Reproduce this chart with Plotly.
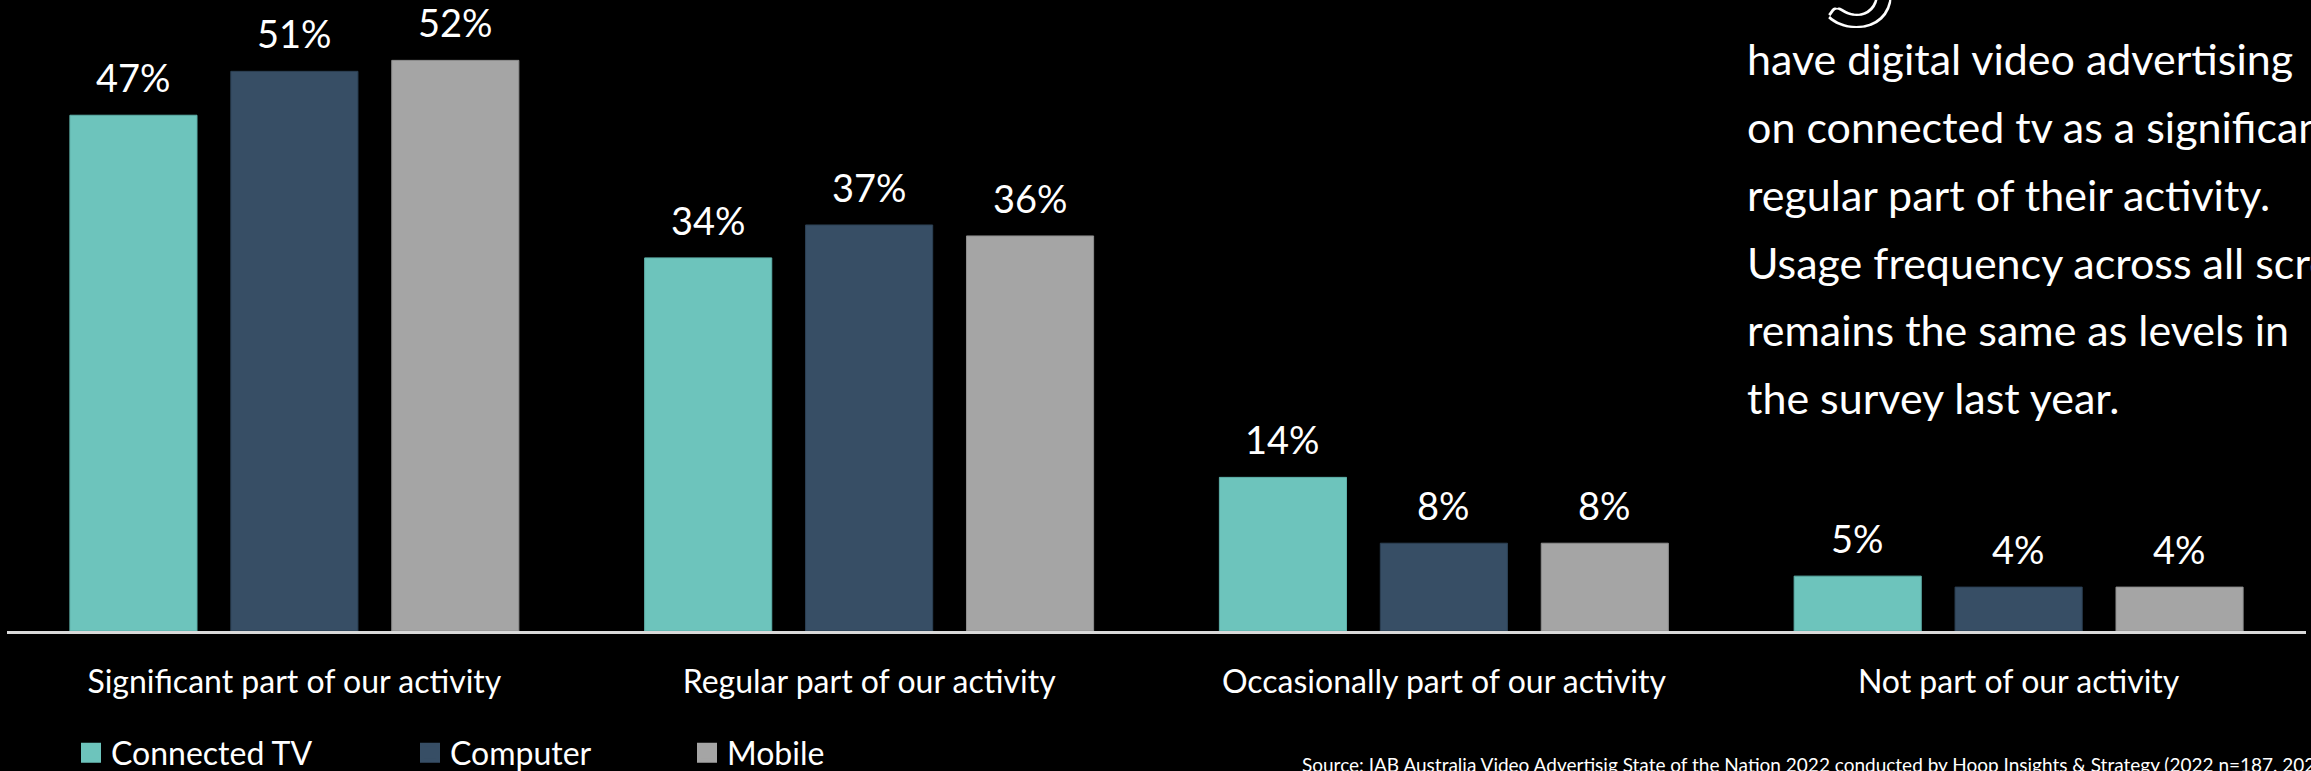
import plotly.graph_objects as go

# ---- data -------------------------------------------------------------
categories = [
    "Significant part of our activity",
    "Regular part of our activity",
    "Occasionally part of our activity",
    "Not part of our activity",
]
series_names = ["Connected TV", "Computer", "Mobile"]
connected_tv = [47, 34, 14, 5]
computer = [51, 37, 8, 4]
mobile = [52, 36, 8, 4]

side_text = [
    "have digital video advertising",
    "on connected tv as a significant or",
    "regular part of their activity.",
    "Usage frequency across all screens",
    "remains the same as levels in",
    "the survey last year.",
]
source_text = ("Source: IAB Australia Video Advertisig State of the Nation 2022 "
               "conducted by Hoop Insights & Strategy (2022 n=187, 2021)")

# ---- styling / geometry ----------------------------------------------
W, H = 2311, 771
ML, MR, MT, MB = 7, 5, 0, 140
PW, PH = W - ML - MR, H - MT - MB
Y_MAX = 57.5
FONT = "Lato"
colors = ["#6DC4BC", "#374E65", "#A5A5A5"]
edge_colors = ["#5DAFA8", "#2C4054", "#8E8E8E"]
BARGAP, GROUPGAP = 0.16, 0.21


def px_x(px):
    return (px - ML) / PW


def px_y(py):
    return (MT + PH - py) / PH


values = [connected_tv, computer, mobile]
fig = go.Figure()

for i, (name, vals) in enumerate(zip(series_names, values)):
    fig.add_trace(go.Bar(
        x=categories, y=vals, name=name, showlegend=False,
        marker=dict(color=colors[i], line=dict(color=edge_colors[i], width=1)),
        hoverinfo="skip",
    ))

# legend swatches, one legend per series so each can be placed freely
legend_ids = ["legend", "legend2", "legend3"]
legend_px = [71, 410, 687]
for i, name in enumerate(series_names):
    fig.add_trace(go.Scatter(
        x=[None], y=[None], mode="markers", name=name, legend=legend_ids[i],
        marker=dict(symbol="square", size=16, color=colors[i],
                    line=dict(color=colors[i], width=4)),
    ))

# value labels above each bar
slot = (1 - BARGAP) / 3
annotations = []
for i, vals in enumerate(values):
    for g, v in enumerate(vals):
        annotations.append(dict(
            x=g + (i - 1) * slot, y=v, xref="x", yref="y",
            text=f"{v}%", showarrow=False, yanchor="bottom", yshift=13,
            font=dict(family=FONT, size=38, color="white"),
        ))

# commentary block on the right
line_baselines = [76, 144, 212, 280, 347, 415]
for line, base in zip(side_text, line_baselines):
    annotations.append(dict(
        x=px_x(1745), y=px_y(base + 10), xref="paper", yref="paper",
        text=line, showarrow=False, xanchor="left", yanchor="bottom",
        font=dict(family=FONT, size=43, color="white"),
    ))

# large outlined numeral running off the top edge
annotations.append(dict(
    x=px_x(1860), y=px_y(55), xref="paper", yref="paper",
    text="5", showarrow=False, xanchor="center", yanchor="bottom",
    font=dict(family=FONT, size=130, color="black",
              shadow="-2px -2px 0 #fff, 2px -2px 0 #fff, "
                     "-2px 2px 0 #fff, 2px 2px 0 #fff"),
))

# source note
annotations.append(dict(
    x=px_x(1300), y=px_y(778), xref="paper", yref="paper",
    text=source_text, showarrow=False, xanchor="left", yanchor="bottom",
    font=dict(family=FONT, size=19, color="white"),
))

legend_common = dict(
    orientation="h", xref="container", yref="container",
    xanchor="left", yanchor="middle", y=1 - 753 / H,
    bgcolor="rgba(0,0,0,0)", font=dict(family=FONT, size=32, color="white"),
    itemclick=False, itemdoubleclick=False,
)

fig.update_layout(
    width=W, height=H,
    margin=dict(l=ML, r=MR, t=MT, b=MB, pad=0),
    paper_bgcolor="black", plot_bgcolor="black",
    barmode="group", bargap=BARGAP, bargroupgap=GROUPGAP,
    showlegend=True,
    legend=dict(legend_common, x=legend_px[0] / W),
    legend2=dict(legend_common, x=legend_px[1] / W),
    legend3=dict(legend_common, x=legend_px[2] / W),
    xaxis=dict(
        type="category", categoryorder="array", categoryarray=categories,
        range=[-0.5, 3.5], showgrid=False, zeroline=False,
        showline=True, linecolor="#D9D9D9", linewidth=3,
        ticks="", ticklabelstandoff=21,
        tickfont=dict(family=FONT, size=32, color="white"),
        fixedrange=True,
    ),
    yaxis=dict(range=[0, Y_MAX], visible=False, fixedrange=True),
    annotations=annotations,
    font=dict(family=FONT, color="white"),
)

fig.write_html("out.html", config={"displayModeBar": False})
